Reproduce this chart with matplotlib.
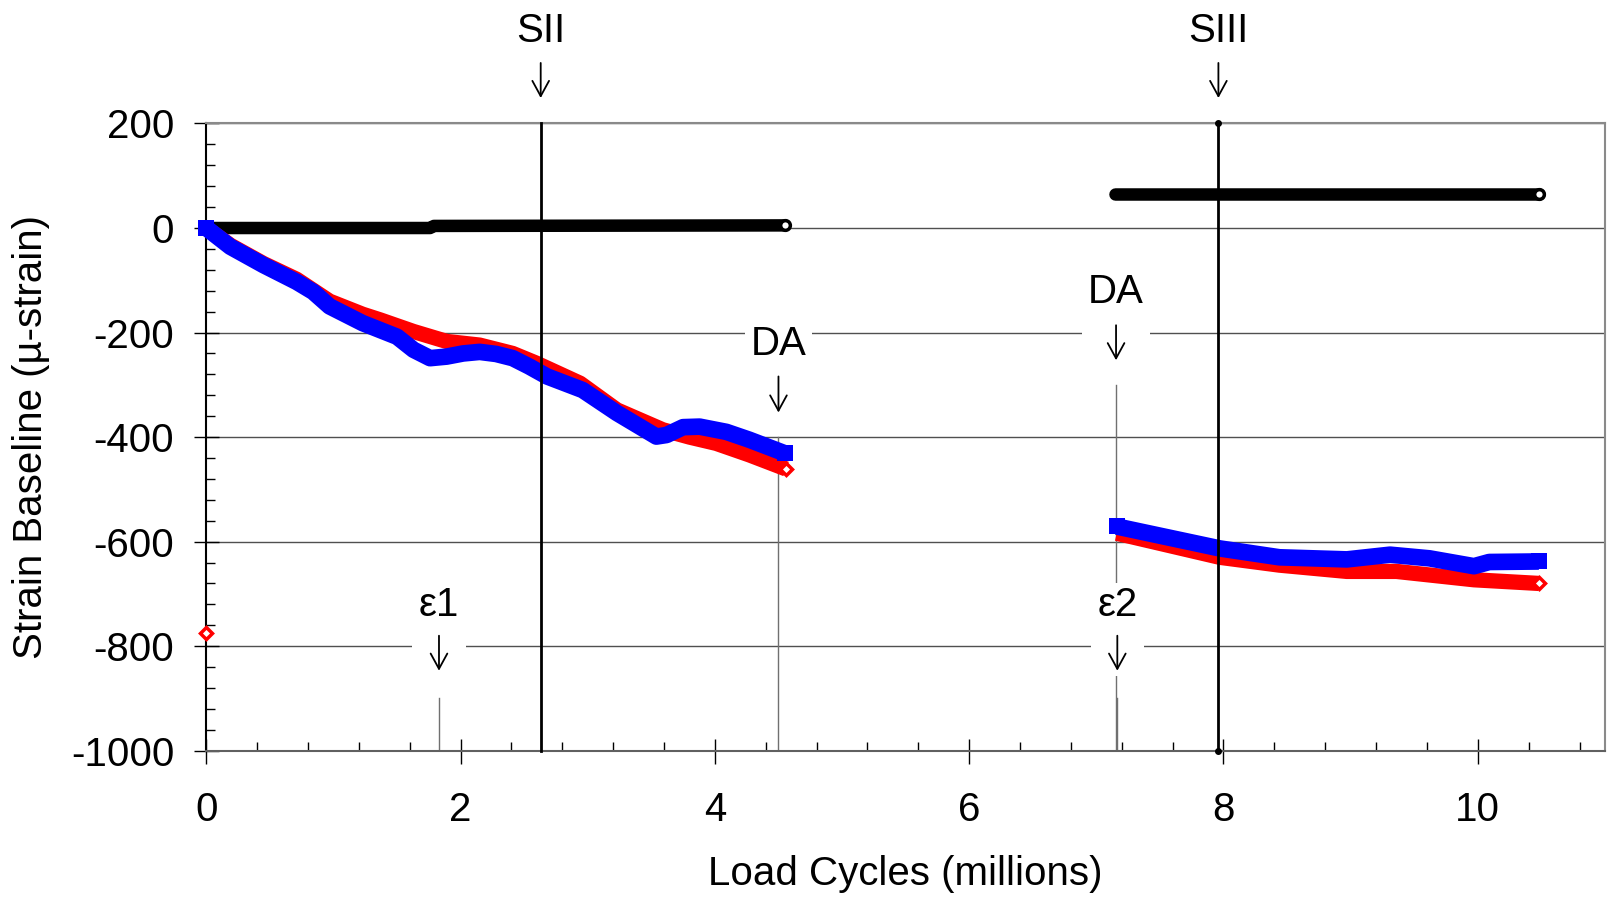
import matplotlib
matplotlib.use("Agg")
import matplotlib.pyplot as plt
import matplotlib.transforms as mtransforms
from matplotlib.patches import Rectangle
from matplotlib.ticker import MultipleLocator

plt.rcParams['font.family'] = ['Liberation Sans', 'DejaVu Sans']
plt.rcParams['font.size'] = 29
plt.rcParams['axes.unicode_minus'] = False

# ---- data (x in millions of cycles, y in micro-strain) ----
# black gauge, two recording periods
black1_x = [0.0, 1.76, 1.79, 4.55]
black1_y = [0, 0, 4, 5]
black2_x = [7.15, 10.48]
black2_y = [65, 65]

# red gauge
red1_x = [0.0, 0.19, 0.45, 0.71, 0.97, 1.23, 1.37, 1.63, 1.89, 2.15, 2.41,
          2.60, 2.94, 3.23, 3.59, 3.80, 4.01, 4.27, 4.56]
red1_y = [0, -33, -68, -98, -140, -165, -176, -198, -217, -224, -240,
          -259, -297, -348, -386, -400, -412, -434, -461]
red2_x = [7.16, 7.97, 8.44, 8.97, 9.36, 9.97, 10.48]
red2_y = [-584, -630, -645, -657, -657, -673, -680]
red_lone_x = [0.0]
red_lone_y = [-775]

# blue gauge
blue1_x = [0.0, 0.19, 0.45, 0.71, 0.84, 0.97, 1.23, 1.50, 1.63, 1.76, 1.89,
           2.02, 2.15, 2.28, 2.41, 2.54, 2.68, 2.96, 3.23, 3.54, 3.62, 3.75,
           3.88, 4.09, 4.27, 4.41, 4.55]
blue1_y = [0, -36, -71, -103, -122, -150, -182, -208, -233, -249, -246,
           -240, -237, -241, -249, -265, -284, -310, -354, -399, -396, -381,
           -380, -390, -405, -418, -431]
blue2_x = [7.16, 7.97, 8.44, 8.97, 9.31, 9.62, 9.97, 10.09, 10.48]
blue2_y = [-571, -613, -630, -634, -625, -632, -647, -639, -638]

# stage lines (SII, SIII)
s_x = [2.63, 7.96]
s_labels = ['SII', 'SIII']

# in-plot event notes: label, x, vertical line top, label baseline,
# arrow top/bottom, white box top/bottom, box half width
note_labels = ['DA', 'DA', 'ε1', 'ε2']
note_x = [4.50, 7.155, 1.83, 7.165]
line_top = [-400, -300, -900, -900]
label_base = [-242, -143, -742, -742]
arrow_top = [-284, -186, -780, -780]
arrow_bot = [-353, -253, -847, -847]
box_top = [-178, -80, -679, -679]
box_bot = [-360, -262, -857, -857]
box_half = [0.267, 0.267, 0.21, 0.21]

fig = plt.figure(figsize=(16.13, 9), dpi=100)
ax = fig.add_axes([0.1279, 0.1659, 0.8671, 0.6969])

ax.set_xlim(0, 11)
ax.set_ylim(-1000, 200)

arrow_kw = dict(arrowstyle='->,head_length=1.1,head_width=0.6', lw=1.3,
                color='black', shrinkA=0, shrinkB=0, mutation_scale=10)

# thin event lines (under the data)
for x, top in zip(note_x, line_top):
    ax.plot([x, x], [-1000, top], color='#707070', lw=1.0, zorder=1.5)

# data bands
ax.plot(black1_x, black1_y, color='black', lw=9, solid_capstyle='round', zorder=3)
ax.plot(black2_x, black2_y, color='black', lw=9, solid_capstyle='round', zorder=3)
for bx, by in ((black1_x, black1_y), (black2_x, black2_y)):
    ax.plot(bx[-1:], by[-1:], 'o', ms=7, mfc='white', mec='black', mew=2.5,
            zorder=3.1, clip_on=False)

ax.plot(red1_x, red1_y, color='red', lw=11, solid_capstyle='butt', zorder=4)
ax.plot(red2_x, red2_y, color='red', lw=11, solid_capstyle='butt', zorder=4)
for rx, ry in ((red1_x, red1_y), (red2_x, red2_y), (red_lone_x, red_lone_y)):
    ax.plot(rx[-1:], ry[-1:], 'D', ms=6.3, mfc='white', mec='red', mew=2.5,
            zorder=4.1, clip_on=False)

for bx, by in ((blue1_x, blue1_y), (blue2_x, blue2_y)):
    ax.plot(bx, by, color='blue', lw=12, solid_capstyle='butt', marker='s',
            ms=12, mew=0, markevery=[0, len(bx) - 1], zorder=5, clip_on=False)

# stage lines with labels above the plot
ax.plot([s_x[0], s_x[0]], [-1000, 200], color='black', lw=2, zorder=6, clip_on=False)
ax.plot([s_x[1], s_x[1]], [-1000, 200], color='black', lw=2, marker='o', ms=4,
        zorder=6, clip_on=False)

trans = mtransforms.blended_transform_factory(ax.transData, ax.transAxes)
for x, lab in zip(s_x, s_labels):
    ax.text(x, 1.1306, lab, transform=trans, ha='center', va='baseline',
            clip_on=False, zorder=7)
    ax.annotate('', xy=(x, 1.0406), xytext=(x, 1.0965), xycoords=trans,
                textcoords=trans, arrowprops=arrow_kw, annotation_clip=False)

# notes inside the plot, on white boxes that break the gridlines
for i, lab in enumerate(note_labels):
    x = note_x[i]
    ax.add_patch(Rectangle((x - box_half[i], box_bot[i]), 2 * box_half[i],
                           box_top[i] - box_bot[i], facecolor='white',
                           edgecolor='none', zorder=6.5))
    ax.text(x, label_base[i], lab, ha='center', va='baseline', zorder=7)
    ax.annotate('', xy=(x, arrow_bot[i]), xytext=(x, arrow_top[i]),
                arrowprops=arrow_kw, zorder=7)

# axes styling
ax.yaxis.set_major_locator(MultipleLocator(200))
ax.yaxis.set_minor_locator(MultipleLocator(40))
ax.xaxis.set_major_locator(MultipleLocator(2))
ax.xaxis.set_minor_locator(MultipleLocator(0.4))
ax.tick_params(which='major', direction='inout', length=18, width=1, color='black')
ax.tick_params(which='minor', direction='in', length=6.5, width=1, color='black')
ax.tick_params(axis='y', which='major', pad=14)
ax.tick_params(axis='x', which='major', pad=20)

ax.set_axisbelow(True)
ax.yaxis.grid(True, which='major', color='#505050', lw=1)

ax.spines['left'].set_color('black')
ax.spines['bottom'].set_color('#606060')
ax.spines['top'].set_color('#8a8a8a')
ax.spines['right'].set_color('#8a8a8a')
for sp in ax.spines.values():
    sp.set_linewidth(1.5)

fig.text(905 / 1613, 1 - 874 / 900, 'Load Cycles (millions)', ha='center', va='center')
fig.text(31 / 1613, 1 - 437 / 900, 'Strain Baseline (µ-strain)', ha='center',
         va='center', rotation=90)

fig.savefig('out.png', dpi=100)
